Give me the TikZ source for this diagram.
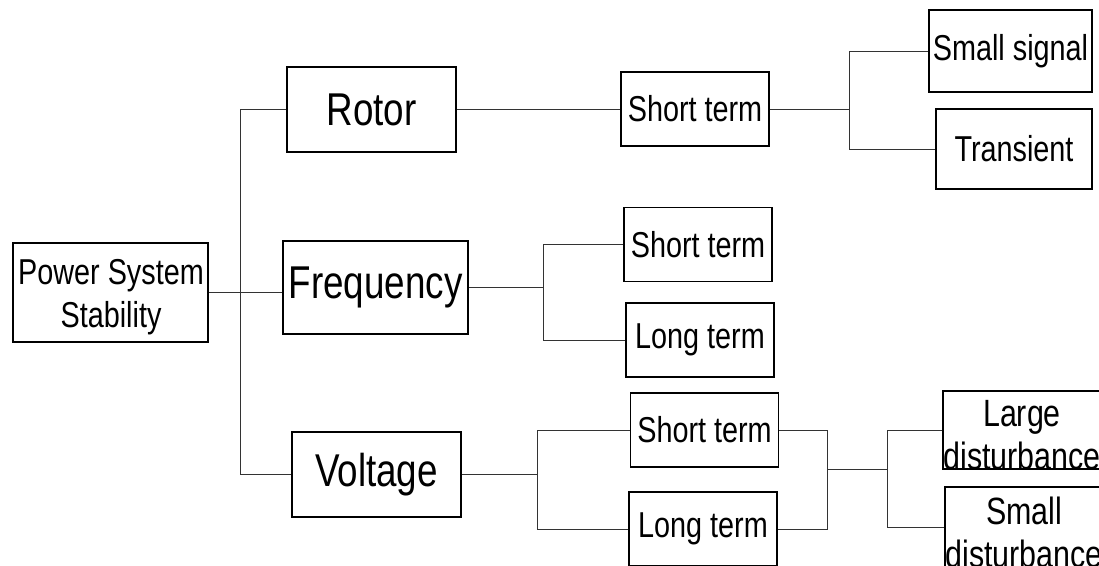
\documentclass[tikz,border=0pt]{standalone}
\usepackage{fontspec}
\setmainfont{Liberation Sans}[FakeStretch=0.8]
\usetikzlibrary{positioning}

\begin{document}
\begin{tikzpicture}[
    x=1pt, y=-1pt,
    conn/.style={draw=black!80, line width=1pt},
    box/.style={
        rectangle, draw, line width=1.3pt, align=center,
        inner sep=0pt, font=\fontsize{36}{44}\selectfont
    },
    bigbox/.style={box, font=\fontsize{46}{55}\selectfont},
    subbox/.style={box, minimum width=148pt, minimum height=74pt},
    lbl/.style={align=center, inner sep=0pt, font=\fontsize{38}{43}\selectfont},
]
    \useasboundingbox (0,0) rectangle (1099,565);

    % Nivel principal
    \node[box, minimum width=195pt, minimum height=99pt]
        (pss) at (110.5,292.5) {};
    \node[lbl, font=\fontsize{36}{43}\selectfont]
        (psstxt) at (111,297) {Power System\\Stability};
    \node[bigbox, minimum width=169pt, minimum height=85pt]
        (rotor) at (371.5,109.5) {Rotor};
    \node[bigbox, minimum width=185pt, minimum height=93pt]
        (freq) at (375.5,287.5) {Frequency};
    \node[bigbox, minimum width=169pt, minimum height=85pt]
        (volt) at (376.5,474.5) {Voltage};

    % Subniveles
    \node[subbox] (rshort) at (695,109)   {Short term};
    \node[subbox] (fshort) at (698,244.5) {Short term};
    \node[subbox] (flong)  at (700,340)   {Long term};
    \node[subbox] (vshort) at (704.5,430) {Short term};
    \node[subbox] (vlong)  at (703,529)   {Long term};

    \node[box, minimum width=163pt, minimum height=82pt] (small) at (1010.5,51) {Small signal};
    \node[box, minimum width=156pt, minimum height=80pt] (trans) at (1014,149)  {Transient};

    % Cajas cortadas por el borde derecho
    \node[box, minimum width=167pt, minimum height=78pt] (large)  at (1026.5,430) {};
    \node[box, minimum width=167pt, minimum height=80pt] (smalld) at (1028.5,527) {};
    \node[lbl] (largetxt)  at (1022,435) {Large\\disturbance};
    \node[lbl] (smalldtxt) at (1024,532) {Small\\disturbance};

    % Conexiones
    \draw[conn] (pss.east) -- (pss.east -| freq.west);
    \draw[conn] (rotor.west) -- ++(-46,0) |- (volt.west);

    \draw[conn] (rotor.east) -- (rotor.east -| rshort.west);
    \draw[conn] (rshort.east) -- ++(80,0) coordinate (rj);
    \draw[conn] (small.west) -| (rj) |- (trans.west);

    \draw[conn] (freq.east) -- ++(75,0) coordinate (fj);
    \draw[conn] (fshort.west) -| (fj) |- (flong.west);

    \draw[conn] (volt.east) -- ++(76,0) coordinate (vj);
    \draw[conn] (vshort.west) -| (vj) |- (vlong.west);

    \coordinate (vk) at (827,469);
    \draw[conn] (vshort.east) -| (vk) |- (vlong.east);
    \draw[conn] (vk) -- (887,469) coordinate (vm);
    \draw[conn] (large.west) -| (vm) |- (smalld.west);

\end{tikzpicture}
\end{document}
